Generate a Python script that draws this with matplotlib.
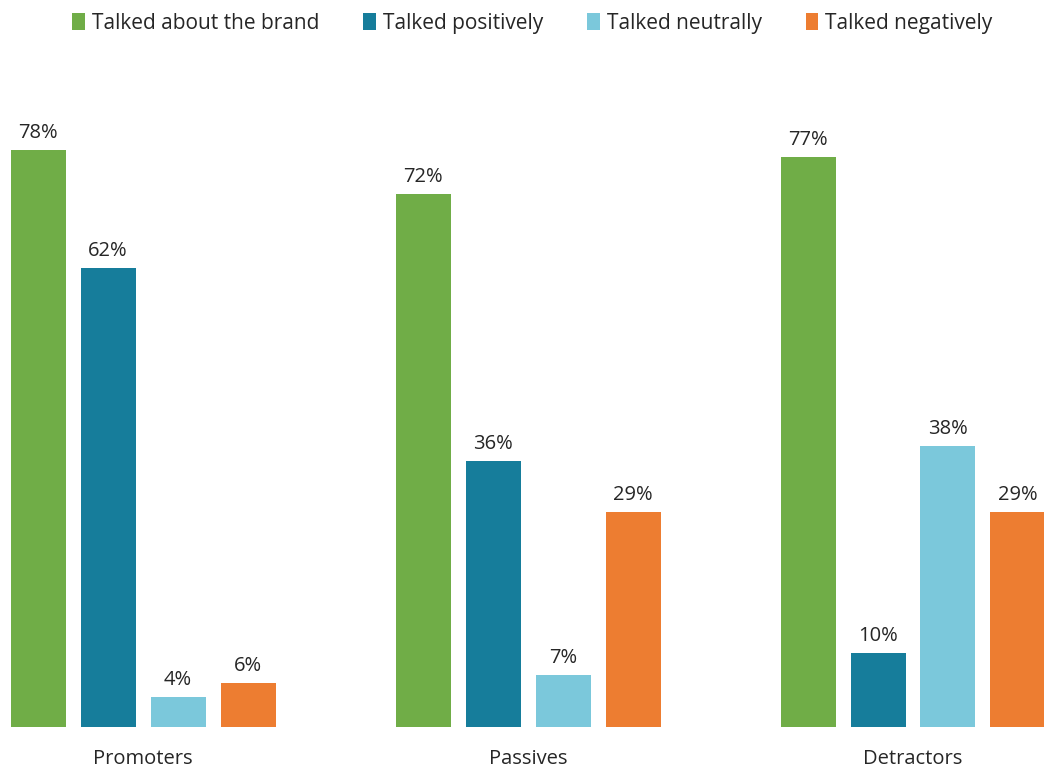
"""Word of mouth by NPS group - grouped bar chart."""

import matplotlib

matplotlib.use("Agg")
import matplotlib.pyplot as plt
from matplotlib.patches import Patch
import numpy as np

plt.rcParams["font.family"] = ["Open Sans", "DejaVu Sans"]

groups = ["Promoters", "Passives", "Detractors"]
series = ["Talked about the brand", "Talked positively", "Talked neutrally", "Talked negatively"]
values = [
    [78, 72, 77],  # talked about the brand
    [62, 36, 10],  # positively
    [4, 7, 38],    # neutrally
    [6, 29, 29],   # negatively
]
colors = ["#70AD47", "#167D9B", "#7BC8DB", "#ED7D31"]

fig = plt.figure(figsize=(10.44, 7.71), dpi=100)
ax = fig.add_axes([0, 44 / 771, 1, 666 / 771])

x = np.arange(len(groups))
step = 70 / 385
width = 55 / 385
for i, (name, vals, col) in enumerate(zip(series, values, colors)):
    pos = x + (i - 1.5) * step
    bars = ax.bar(pos, vals, width=width, color=col, label=name)
    for b, v in zip(bars, vals):
        ax.annotate(f"{v}%", (b.get_x() + b.get_width() / 2, v),
                    xytext=(0, 5), textcoords="offset points",
                    ha="center", va="bottom", fontsize=14.5, color="#262626")

ax.set_xlim(-143 / 385, (1044 - 143) / 385)
ax.set_ylim(0, 90)
ax.set_xticks(x)
ax.set_xticklabels(groups, fontsize=14.5, color="#262626")
ax.tick_params(axis="x", length=0, pad=16)
ax.set_yticks([])
for s in ax.spines.values():
    s.set_visible(False)

handles = [Patch(facecolor=c, label=n) for n, c in zip(series, colors)]
fig.legend(handles=handles, loc="upper center", bbox_to_anchor=(0.51, 1.008), ncol=4,
           frameon=False, fontsize=15, handlelength=0.6, handleheight=0.85,
           handletextpad=0.35, columnspacing=2.1, labelcolor="#262626")

fig.savefig("out.png", dpi=100)
